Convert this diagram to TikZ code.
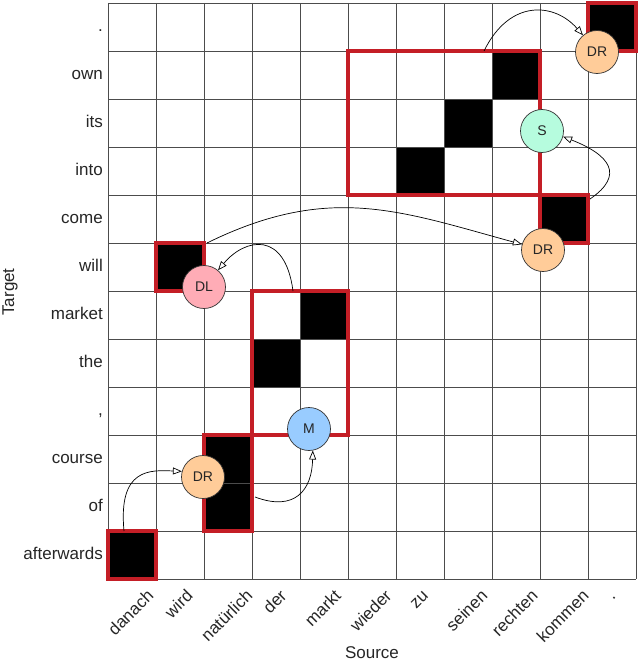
\documentclass[tikz,border=0pt]{standalone}
\usepackage{fontspec}
\setmainfont{Liberation Sans}
\usetikzlibrary{arrows.meta,calc}
\definecolor{boxred}{RGB}{196,30,38}
\definecolor{drcol}{RGB}{255,204,153}
\definecolor{scol}{RGB}{182,252,222}
\definecolor{dlcol}{RGB}{255,172,182}
\definecolor{mcol}{RGB}{153,204,255}
\definecolor{txt}{RGB}{38,38,38}
\begin{document}
\begin{tikzpicture}[x=1pt,y=-1pt,
  gridline/.style={draw=black!70,line width=0.8pt},
  redbox/.style={rectangle,draw=boxred,line width=3.2pt,inner sep=0pt,outer sep=0pt},
  opnode/.style={circle,draw=black!80,line width=0.7pt,minimum size=43pt,inner sep=0pt,font=\fontsize{14}{16}\selectfont,text=txt},
  conn/.style={line width=0.7pt,-{Triangle[length=9pt,width=7pt,fill=white]}},
  rowlab/.style={anchor=base east,inner sep=0pt,font=\fontsize{17}{20}\selectfont,text=txt},
  collab/.style={anchor=north,inner sep=0pt,font=\fontsize{17}{20}\selectfont,text=txt},
  axlab/.style={inner sep=0pt,font=\fontsize{17}{20}\selectfont,text=txt},
]
\useasboundingbox (0,0) rectangle (640,661);
\fill[white] (0,0) rectangle (640,661);

% black alignment cells
\foreach \c/\r in {0/0,2/1,2/2,3/4,4/5,1/6,9/7,6/8,7/9,8/10,10/11}
  \fill[black] ({108+48*\c},{531-48*\r}) rectangle ({156+48*\c},{579-48*\r});

% grid
\foreach \i in {0,...,11} \draw[gridline] ({108+48*\i},3) -- ({108+48*\i},579);
\foreach \i in {0,...,12} \draw[gridline] (108,{3+48*\i}) -- (636,{3+48*\i});

% red boxes
\node[redbox,minimum width=48pt,minimum height=48pt] (box0) at (132,555) {};
\node[redbox,minimum width=48pt,minimum height=96pt] (box1) at (228,483) {};
\node[redbox,minimum width=96pt,minimum height=144pt] (box2) at (300,363) {};
\node[redbox,minimum width=48pt,minimum height=48pt] (box3) at (180,267) {};
\node[redbox,minimum width=48pt,minimum height=48pt] (box4) at (564,219) {};
\node[redbox,minimum width=192pt,minimum height=144pt] (box5) at (444,123) {};
\node[redbox,minimum width=48pt,minimum height=48pt] (box6) at (612,27) {};

% operation circles
\node[opnode,fill=drcol] (dr1) at (203,477) {DR};
\node[opnode,fill=mcol] (m) at (309,429) {M};
\node[opnode,fill=dlcol] (dl) at (204,287) {DL};
\node[opnode,fill=drcol] (dr2) at (543,250) {DR};
\node[opnode,fill=scol] (s) at (542,131) {S};
\node[opnode,fill=drcol] (dr3) at (597,52) {DR};

% connectors
\draw[conn] ($(box0.north)+(-8,0)$) .. controls (118,468) and (150,470) .. (dr1.165);
\draw[conn] ($(box1.east)+(3,14)$) .. controls (295,512) and (312,490) .. (m.-80);
\draw[conn] ($(box2.north)+(-7,0)$) .. controls (285,230) and (245,238) .. (dl.50);
\draw[conn] ($(box3.north east)+(3,0)$) .. controls (329,183) and (400,211) .. (dr2.165);
\draw[conn] ($(box4.north east)+(2,4)$) .. controls (625,175) and (610,155) .. (s.-15);
\draw[conn] ($(box5.north)+(40,0)$) .. controls (510,-2) and (555,3) .. (dr3.130);

% row labels
\foreach \r/\t in {0/afterwards,1/of,2/course,3/{,},4/the,5/market,6/will,7/come,8/into,9/its,10/own,11/.}
  \node[rowlab] (rl\r) at (103,{559.5-48*\r}) {\t};

% column labels
\foreach \c/\t in {0/danach,1/wird,2/natürlich,3/der,4/markt,5/wieder,6/zu,7/seinen,8/rechten,9/kommen,10/.}
  \node[collab] (cl\c) at ({132+48*\c},587) {\rotatebox{45}{\strut\t}};

% axis labels
\node[axlab,anchor=base] (src) at (372,658) {Source};
\node[axlab,anchor=base,rotate=90] (tgt) at (14,292) {Target};
\end{tikzpicture}
\end{document}
